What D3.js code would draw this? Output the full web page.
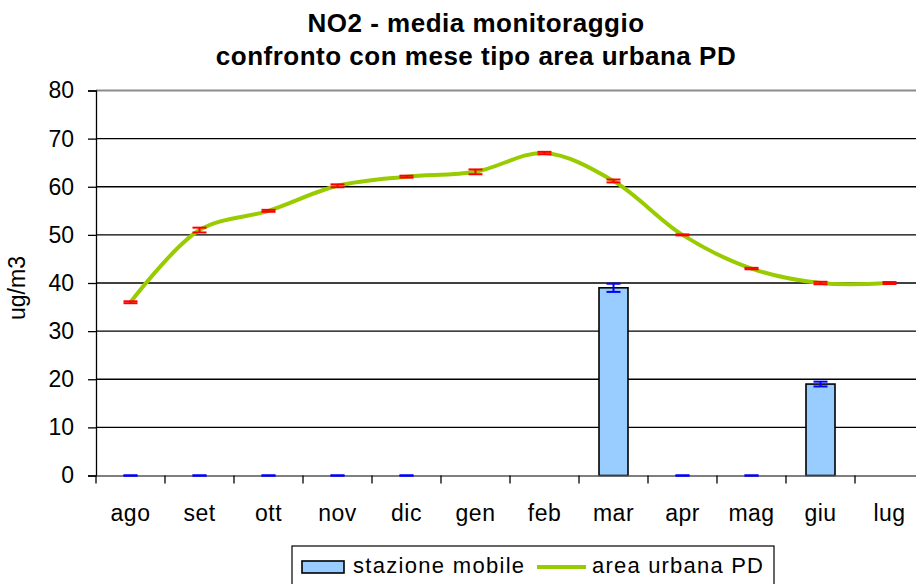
<!DOCTYPE html>
<html>
<head>
<meta charset="utf-8">
<script src="https://cdn.jsdelivr.net/npm/d3@7"></script>
<style>
  body { margin: 0; background: #fff; }
  text { font-family: "Liberation Sans", Arial, sans-serif; fill: #000; }
</style>
</head>
<body>
<div id="chart"></div>
<script>
// months on the x axis
const months = ['ago', 'set', 'ott', 'nov', 'dic', 'gen', 'feb', 'mar', 'apr', 'mag', 'giu', 'lug'];
// stazione mobile (bars), null = no data
const mobileValues = [0, 0, 0, 0, 0, null, null, 39, 0, 0, 19, null];
const mobileErrors = [0, 0, 0, 0, 0, null, null, 0.85, 0, 0, 0.5, null];
// area urbana PD (line)
const urbanValues = [36, 51, 55, 60.2, 62.1, 63.1, 67, 61.2, 50, 43, 40, 40];
const urbanErrors = [0.2, 0.5, 0.2, 0.3, 0.2, 0.5, 0.25, 0.3, 0.1, 0.15, 0.25, 0.2];
const yTicks = [0, 10, 20, 30, 40, 50, 60, 70, 80];

const W = 916, H = 584;
const plot = { left: 96, right: 924, top: 90.5, bottom: 475.5 };

const svg = d3.select('#chart').append('svg')
  .attr('width', W)
  .attr('height', H);

const x = d3.scaleBand()
  .domain(months)
  .range([plot.left, plot.right]);

const y = d3.scaleLinear()
  .domain([0, 80])
  .range([plot.bottom, plot.top]);

const cx = m => x(m) + x.bandwidth() / 2;

// title
const title = svg.append('text')
  .attr('text-anchor', 'middle')
  .style('font-weight', 'bold')
  .style('font-size', '26px')
  .style('letter-spacing', '0.5px');
title.append('tspan').attr('x', 476).attr('y', 32).text('NO2 - media monitoraggio');
title.append('tspan').attr('x', 476).attr('y', 65).text('confronto con mese tipo area urbana PD');

// gridlines
svg.append('g')
  .selectAll('line')
  .data(yTicks.filter(d => d > 0 && d < 80))
  .enter().append('line')
  .attr('x1', plot.left).attr('x2', plot.right)
  .attr('y1', d => y(d)).attr('y2', d => y(d))
  .attr('stroke', '#000')
  .attr('stroke-width', 1.3);

// top border of plot area
svg.append('line')
  .attr('x1', plot.left).attr('x2', plot.right)
  .attr('y1', y(80)).attr('y2', y(80))
  .attr('stroke', '#8c8c8c')
  .attr('stroke-width', 2);

// y axis
const yAxis = svg.append('g')
  .attr('transform', `translate(${plot.left},0)`)
  .call(d3.axisLeft(y).tickValues(yTicks).tickSize(8).tickPadding(14));
yAxis.select('.domain').attr('stroke', '#000').attr('stroke-width', 1.3);
yAxis.selectAll('.tick line').attr('stroke', '#000').attr('stroke-width', 1.3);
yAxis.selectAll('.tick text')
  .style('font-size', '23px')
  .style('font-family', '"Liberation Sans", Arial, sans-serif');

// y axis title
svg.append('text')
  .attr('transform', 'translate(25,288) rotate(-90)')
  .attr('text-anchor', 'middle')
  .style('font-size', '23px')
  .text('ug/m3');

// bars
svg.append('g')
  .selectAll('rect')
  .data(months.map((m, i) => ({ m, v: mobileValues[i] })).filter(d => d.v))
  .enter().append('rect')
  .attr('x', d => cx(d.m) - 14.5)
  .attr('width', 29)
  .attr('y', d => y(d.v))
  .attr('height', d => y(0) - y(d.v))
  .attr('fill', '#99ccff')
  .attr('stroke', '#000')
  .attr('stroke-width', 1.6);

// x axis
const xAxis = svg.append('g')
  .attr('transform', `translate(0,${plot.bottom})`)
  .call(d3.axisBottom(x).tickSize(0).tickPadding(29));
xAxis.select('.domain').attr('stroke', '#555').attr('stroke-width', 1.6);
xAxis.selectAll('.tick text')
  .style('font-size', '23px')
  .style('font-family', '"Liberation Sans", Arial, sans-serif')
  .style('letter-spacing', '0.5px');

// x ticks at band edges
svg.append('g')
  .selectAll('line')
  .data(d3.range(months.length + 1))
  .enter().append('line')
  .attr('x1', i => plot.left + i * x.step())
  .attr('x2', i => plot.left + i * x.step())
  .attr('y1', plot.bottom)
  .attr('y2', plot.bottom + 8)
  .attr('stroke', '#000')
  .attr('stroke-width', 1.3);

// error bars helper
function errorBars(values, errors, color) {
  const data = months.map((m, i) => ({ m, v: values[i], e: errors[i] }))
    .filter(d => d.v !== null);
  const g = svg.append('g')
    .attr('stroke', color)
    .attr('stroke-width', 2);
  data.forEach(d => {
    const px = cx(d.m);
    g.append('line')
      .attr('x1', px).attr('x2', px)
      .attr('y1', y(d.v - d.e)).attr('y2', y(d.v + d.e));
    [d.v - d.e, d.v + d.e].forEach(v => {
      g.append('line')
        .attr('x1', px - 7).attr('x2', px + 7)
        .attr('y1', y(v)).attr('y2', y(v));
    });
  });
}

errorBars(mobileValues, mobileErrors, '#0000ff');

// urban line (smoothed)
const line = d3.line()
  .x((d, i) => cx(months[i]))
  .y(d => y(d))
  .curve(d3.curveCatmullRom.alpha(0.5));

svg.append('path')
  .datum(urbanValues)
  .attr('d', line)
  .attr('fill', 'none')
  .attr('stroke', '#99cc00')
  .attr('stroke-width', 4);

errorBars(urbanValues, urbanErrors, '#ff0000');

// legend
const legend = svg.append('g');
legend.append('rect')
  .attr('x', 292).attr('y', 546)
  .attr('width', 482).attr('height', 44)
  .attr('fill', '#fff')
  .attr('stroke', '#000')
  .attr('stroke-width', 1.2);
legend.append('rect')
  .attr('x', 302).attr('y', 561)
  .attr('width', 42).attr('height', 12)
  .attr('fill', '#99ccff')
  .attr('stroke', '#000')
  .attr('stroke-width', 1.6);
legend.append('text')
  .attr('x', 353).attr('y', 573)
  .style('font-size', '22px')
  .style('letter-spacing', '1.3px')
  .text('stazione mobile');
legend.append('line')
  .attr('x1', 537).attr('x2', 586)
  .attr('y1', 567).attr('y2', 567)
  .attr('stroke', '#99cc00')
  .attr('stroke-width', 4);
legend.append('text')
  .attr('x', 592).attr('y', 573)
  .style('font-size', '22px')
  .style('letter-spacing', '1.2px')
  .text('area urbana PD');
</script>
</body>
</html>
